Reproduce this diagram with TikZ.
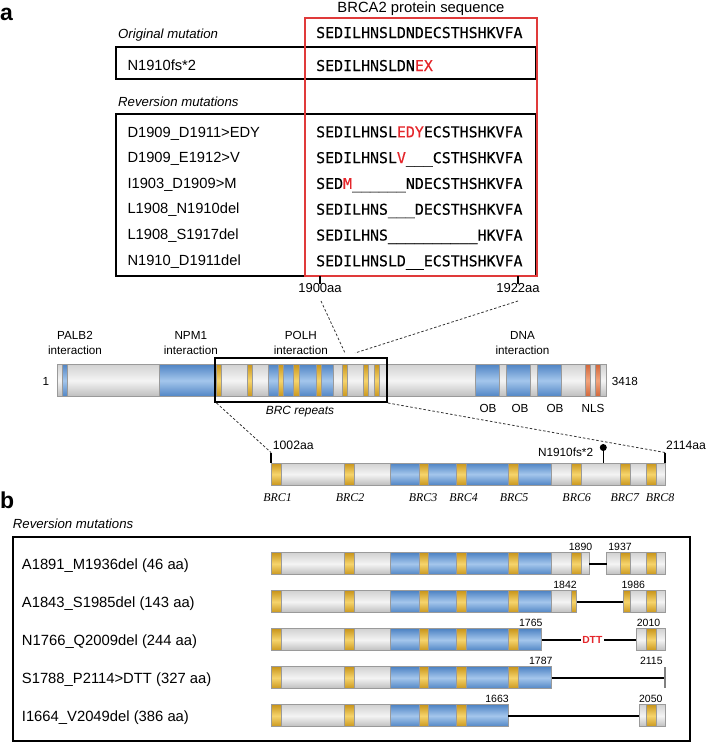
\documentclass[tikz,border=0pt]{standalone}
\usepackage{fontspec}
\setmainfont{Liberation Sans}
\newfontfamily\seqfont[FakeBold=0.35]{DejaVu Sans Mono}
\newfontfamily\brcfont{Liberation Serif}
\definecolor{myred}{HTML}{E4262B}
\definecolor{boxred}{HTML}{E03A3A}
\definecolor{bordergray}{HTML}{9A9A9A}
\definecolor{greyA}{HTML}{D2D2D2}
\definecolor{greyB}{HTML}{F4F4F4}
\definecolor{blueA}{HTML}{4F84C4}
\definecolor{blueB}{HTML}{A4C6EC}
\definecolor{goldA}{HTML}{C9961C}
\definecolor{goldB}{HTML}{F6D46C}
\definecolor{orA}{HTML}{D0663A}
\definecolor{orB}{HTML}{F2A47C}
\newcommand\fsz[1]{\fontsize{#1}{#1}\selectfont}
\newcommand\domfont{\fontsize{11.7}{15}\selectfont}
\newcommand\us{\textunderscore}
\newcommand\rd[1]{\textcolor{myred}{#1}}
\tikzset{
  segborder/.style={draw=bordergray, line width=1pt},
  greyseg/.style={segborder, top color=greyA, bottom color=greyA!90!black, middle color=greyB},
  blueseg/.style={segborder, top color=blueA, bottom color=blueA, middle color=blueB},
  goldseg/.style={segborder, top color=goldA, bottom color=goldA, middle color=goldB},
  orseg/.style={segborder, top color=orA, bottom color=orA, middle color=orB},
  lbl/.style={inner sep=0pt, font=\fsz{14.7}},
  seq/.style={inner sep=0pt, font=\seqfont\fsz{14.9}},
  hdr/.style={inner sep=0pt, font=\fsz{13.2}\itshape},
  small/.style={inner sep=0pt, font=\fsz{11.7}},
  dom/.style={inner sep=0pt, align=center, anchor=south, font=\domfont},
  num/.style={inner sep=0pt, font=\fsz{10.5}},
  brc/.style={inner sep=0pt, font=\brcfont\itshape\fsz{11.9}},
  boxline/.style={draw=black, line width=2pt},
  tickline/.style={draw=black, line width=1.4pt},
  dashline/.style={draw=black!80, line width=0.8pt, dash pattern=on 2.5pt off 2pt},
  conn/.style={draw=black, line width=1.4pt},
  panel/.style={inner sep=0pt, font=\fsz{23}\bfseries},
}
\newcommand\mseg[3]{\path[#1] (#2,364.3) rectangle (#3,396.7);}
\newcommand\lseg[4]{\path[#1] (#2,#4-11) rectangle (#3,#4+11);}
\newcommand\lowbar[3]{%
  \begin{scope}
    \clip (#1,#3-11) rectangle (#2,#3+11);
    \lseg{greyseg}{271}{665}{#3}
    \lseg{blueseg}{390.7}{551.7}{#3}
    \lseg{goldseg}{271.7}{281.7}{#3}
    \lseg{goldseg}{344.3}{354.3}{#3}
    \lseg{goldseg}{419}{428.5}{#3}
    \lseg{goldseg}{456.7}{466.7}{#3}
    \lseg{goldseg}{508.5}{518.3}{#3}
    \lseg{goldseg}{571}{581}{#3}
    \lseg{goldseg}{620.5}{630.5}{#3}
    \lseg{goldseg}{646.7}{656.7}{#3}
  \end{scope}
  \draw[segborder] (#1,#3-11) rectangle (#2,#3+11);}
\begin{document}
\begin{tikzpicture}[x=1pt,y=-1pt]
\useasboundingbox (0,0) rectangle (709,742);
% ---------------- panel a ----------------
\node[panel, anchor=base west] (pa) at (0,20) {a};
\node[inner sep=0pt, font=\fsz{14.8}, anchor=base] (title) at (421,12) {BRCA2 protein sequence};
\node[hdr, anchor=base west] (orig) at (118,38.8) {Original mutation};
\node[hdr, anchor=base west] (rev) at (118,106) {Reversion mutations};
\draw[boxline] (116,47) rectangle (536,79);
\draw[boxline] (116,114) rectangle (536,275.5);
\node[lbl, anchor=base west] (m0) at (127.3,70.5) {N1910fs*2};
\node[seq, anchor=base west] (q0) at (316,38) {SEDILHNSLDNDECSTHSHKVFA};
\node[seq, anchor=base west] (q1) at (316,71) {SEDILHNSLDN\rd{EX}};
\foreach \k/\lab/\sq in {
  0/{D1909\us D1911>EDY}/{SEDILHNSL\rd{EDY}ECSTHSHKVFA},
  1/{D1909\us E1912>V}/{SEDILHNSL\rd{V}\us\us\us CSTHSHKVFA},
  2/{I1903\us D1909>M}/{SED\rd{M}\us\us\us\us\us\us NDECSTHSHKVFA},
  3/{L1908\us N1910del}/{SEDILHNS\us\us\us DECSTHSHKVFA},
  4/{L1908\us S1917del}/{SEDILHNS\us\us\us\us\us\us\us\us\us\us HKVFA},
  5/{N1910\us D1911del}/{SEDILHNSLD\us\us ECSTHSHKVFA}}{
  \node[lbl, anchor=base west] (r\k) at (127.3,{137+25.6*\k}) {\lab};
  \node[seq, anchor=base west] (s\k) at (316,{137.3+25.8*\k}) {\sq};
}
\draw[draw=boxred, line width=2pt] (304.5,17.5) rectangle (536.5,275.5);
\coordinate (ta1) at (320,276); \coordinate (ta2) at (320,283.5);
\coordinate (tb1) at (518,276); \coordinate (tb2) at (518,283.5);
\draw[tickline] (ta1) -- (ta2);
\draw[tickline] (tb1) -- (tb2);
\node[inner sep=0pt, font=\fsz{13}, anchor=base] (l1900) at (320,292.5) {1900aa};
\node[inner sep=0pt, font=\fsz{13}, anchor=base] (l1922) at (518,292.5) {1922aa};
\coordinate (da1) at (321,301); \coordinate (da2) at (345,353);
\coordinate (db1) at (518,301); \coordinate (db2) at (355,353);
\draw[dashline] (da1) -- (da2);
\draw[dashline] (db1) -- (db2);
% domain labels
\node[dom] (palb) at (75,355) {PALB2\\interaction};
\node[dom] (npm) at (190.8,355) {NPM1\\interaction};
\node[dom] (polh) at (300.8,355) {POLH\\interaction};
\node[dom] (dna) at (522.5,355) {DNA\\interaction};
% main bar
\mseg{greyseg}{57.3}{606.7}
\mseg{blueseg}{62.7}{67.3}
\mseg{blueseg}{159.3}{216}
\mseg{goldseg}{216.5}{221.2}
\mseg{goldseg}{247.3}{252.3}
\mseg{blueseg}{268.8}{333.7}
\mseg{goldseg}{278}{283}
\mseg{goldseg}{293.7}{299}
\mseg{goldseg}{316.3}{321.3}
\mseg{goldseg}{342}{347}
\mseg{goldseg}{363.3}{368.3}
\mseg{goldseg}{374.3}{379.3}
\mseg{blueseg}{475}{499.3}
\mseg{blueseg}{506.7}{530.7}
\mseg{blueseg}{537.7}{561.7}
\mseg{orseg}{585}{590}
\mseg{orseg}{595}{600.7}
\draw[boxline] (215,358.3) rectangle (386.7,401.7);
\node[small, anchor=base] (one) at (46,385.5) {1};
\node[small, anchor=base west] (end) at (611.7,385) {3418};
\node[small, anchor=base, font=\fsz{11.9}\itshape] (brcrep) at (300,414.5) {BRC repeats};
\node[small, anchor=base] (ob1) at (488,412.5) {OB};
\node[small, anchor=base] (ob2) at (520,412.5) {OB};
\node[small, anchor=base] (ob3) at (555,412.5) {OB};
\node[small, anchor=base] (nls) at (593,412.5) {NLS};
% zoom-in bar
\coordinate (bl) at (216.5,403); \coordinate (br) at (388,403);
\coordinate (k1) at (271,452.5); \coordinate (k1b) at (271,463.3);
\coordinate (k2) at (665,452.5); \coordinate (k2b) at (665,463.3);
\draw[dashline] (bl) -- (k1);
\draw[dashline] (br) -- (k2);
\draw[draw=black, line width=1.2pt] (k1) -- (k1b);
\draw[draw=black, line width=1.2pt] (k2) -- (k2b);
\node[inner sep=0pt, font=\fsz{12.2}, anchor=base west] (l1002) at (272.7,449.5) {1002aa};
\node[inner sep=0pt, font=\fsz{12.2}, anchor=base west] (l2114) at (666,449.5) {2114aa};
\lowbar{271}{665}{474.2}
\coordinate (pinb) at (603.3,463.3);
\node[circle, fill=black, inner sep=0pt, minimum size=7pt] (pin) at (603.3,447.5) {};
\draw[draw=black, line width=1.4pt] (pin.center) -- (pinb);
\node[inner sep=0pt, font=\fsz{11.8}, anchor=base east] (fs) at (593.3,456) {N1910fs*2};
\foreach \nm/\xx in {1/277.5,2/350,3/423,4/463.5,5/514,6/576.7,7/624.8,8/660}{
  \node[brc, anchor=base] (brc\nm) at (\xx,501.5) {BRC\nm};
}
% ---------------- panel b ----------------
\node[panel, anchor=base west] (pb) at (0,508) {b};
\node[hdr, anchor=base west] (revb) at (12.7,528.3) {Reversion mutations};
\draw[boxline] (13.3,536.7) rectangle (690,740.5);
\foreach \k/\lab in {0/{A1891\us M1936del (46 aa)},1/{A1843\us S1985del (143 aa)},2/{N1766\us Q2009del (244 aa)},3/{S1788\us P2114>DTT (327 aa)},4/{I1664\us V2049del (386 aa)}}{
  \node[lbl, anchor=base west, font=\fsz{14.8}] (b\k) at (21.7,{569.5+38*\k}) {\lab};
}
% row 1
\lowbar{271}{589.3}{563.8}
\lowbar{606.7}{665}{563.8}
\coordinate (c1a) at (589.3,563.8); \coordinate (c1b) at (606.7,563.8);
\draw[conn] (c1a) -- (c1b);
\node[num, anchor=base] (n1890) at (580.5,550.3) {1890};
\node[num, anchor=base] (n1937) at (620,550.3) {1937};
% row 2
\lowbar{271}{576.7}{601.8}
\lowbar{623.3}{665}{601.8}
\coordinate (c2a) at (576.7,601.8); \coordinate (c2b) at (623.3,601.8);
\draw[conn] (c2a) -- (c2b);
\node[num, anchor=base] (n1842) at (565,588.3) {1842};
\node[num, anchor=base] (n1986) at (633.3,588.3) {1986};
% row 3
\lowbar{271}{541.7}{639.8}
\lowbar{636}{665}{639.8}
\coordinate (c3a) at (541.7,639.8); \coordinate (c3b) at (636,639.8);
\draw[conn] (c3a) -- (c3b);
\node[inner sep=1.5pt, fill=white, text=myred, font=\fsz{10.3}\bfseries] (dtt) at (592.3,639.8) {DTT};
\node[num, anchor=base] (n1765) at (530.8,626.3) {1765};
\node[num, anchor=base] (n2010) at (648.5,626.3) {2010};
% row 4
\lowbar{271}{551.7}{677.8}
\coordinate (c4a) at (551.7,677.8); \coordinate (c4b) at (665,677.8);
\draw[conn] (c4a) -- (c4b);
\coordinate (e4a) at (665,667.3); \coordinate (e4b) at (665,688.3);
\draw[draw=gray, line width=1.5pt] (e4a) -- (e4b);
\node[num, anchor=base] (n1787) at (540.8,664.3) {1787};
\node[num, anchor=base] (n2115) at (651.3,664.3) {2115};
% row 5
\lowbar{271}{508.3}{715.8}
\lowbar{639}{665}{715.8}
\coordinate (c5a) at (508.3,715.8); \coordinate (c5b) at (639,715.8);
\draw[conn] (c5a) -- (c5b);
\node[num, anchor=base] (n1663) at (497,702.3) {1663};
\node[num, anchor=base] (n2050) at (650.8,702.3) {2050};
\end{tikzpicture}
\end{document}
